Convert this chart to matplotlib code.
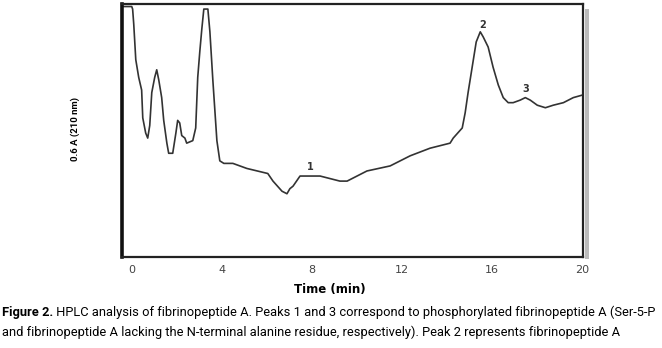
import matplotlib.pyplot as plt
from matplotlib.patches import Rectangle

# chromatogram trace (time in min, relative absorbance)
time_min = [-0.40, 0.00, 0.04, 0.09, 0.18, 0.31, 0.44, 0.49, 0.62, 0.71, 0.80, 0.89,
            1.02, 1.11, 1.20, 1.33, 1.42, 1.56, 1.64, 1.82, 1.96, 2.04, 2.13, 2.22,
            2.36, 2.44, 2.71, 2.84, 2.93, 3.02, 3.11, 3.20, 3.38, 3.47, 3.60, 3.69,
            3.78, 3.91, 4.09, 4.49, 5.11, 6.04, 6.27, 6.67, 6.89, 7.02, 7.16, 7.47,
            7.91, 8.36, 8.80, 9.24, 9.56, 10.44, 11.47, 12.36, 13.24, 14.13, 14.27,
            14.67, 14.80, 14.93, 15.11, 15.29, 15.47, 15.60, 15.82, 16.04, 16.27,
            16.49, 16.71, 16.93, 17.24, 17.47, 17.69, 18.00, 18.36, 18.71, 19.16,
            19.60, 20.00]
absorb = [0.99, 0.99, 0.98, 0.92, 0.78, 0.71, 0.66, 0.55, 0.49, 0.47, 0.52, 0.65,
          0.71, 0.74, 0.70, 0.63, 0.54, 0.45, 0.41, 0.41, 0.49, 0.54, 0.53, 0.48,
          0.47, 0.45, 0.46, 0.51, 0.71, 0.81, 0.90, 0.98, 0.98, 0.89, 0.70, 0.58,
          0.46, 0.38, 0.37, 0.37, 0.35, 0.33, 0.30, 0.26, 0.25, 0.27, 0.28, 0.32,
          0.32, 0.32, 0.31, 0.30, 0.30, 0.34, 0.36, 0.40, 0.43, 0.45, 0.47,
          0.51, 0.57, 0.65, 0.75, 0.85, 0.89, 0.87, 0.83, 0.75, 0.68,
          0.63, 0.61, 0.61, 0.62, 0.63, 0.62, 0.60, 0.59, 0.60, 0.61,
          0.63, 0.64]

peak_labels = ["1", "2", "3"]
peak_time = [7.91, 15.56, 17.47]
peak_abs = [0.33, 0.89, 0.64]

xticks = [0, 4, 8, 12, 16, 20]

fig = plt.figure(figsize=(6.62, 3.48), dpi=100)
ax = fig.add_axes([0.184, 0.2615, 0.697, 0.727])

ax.plot(time_min, absorb, color="#333333", lw=1.2)
for lab, t, a in zip(peak_labels, peak_time, peak_abs):
    ax.annotate(lab, (t, a), xytext=(0, 1), textcoords="offset points",
                ha="center", va="bottom", fontsize=7, fontweight="bold",
                color="#333333")

ax.set_xlim(-0.44, 20.04)
ax.set_ylim(0, 1)
ax.set_xticks(xticks)
ax.set_xticklabels([str(v) for v in xticks])
ax.set_yticks([])
ax.tick_params(axis="x", length=0, pad=6, labelsize=8, labelcolor="#444444")

for side in ["top", "right", "bottom"]:
    ax.spines[side].set_linewidth(1.6)
    ax.spines[side].set_color("#222222")
ax.spines["left"].set_linewidth(2.6)
ax.spines["left"].set_color("#111111")

# grey shadow along the right edge of the frame
fig.add_artist(Rectangle((0.883, 0.255), 0.006, 0.72, transform=fig.transFigure,
                         color="#bbbbbb", lw=0))

fig.text(0.498, 0.167, "Time (min)", ha="center", va="center",
         fontsize=8.5, fontweight="bold")
fig.text(0.113, 0.63, "0.6 A (210 nm)", rotation=90, ha="center", va="center",
         fontsize=6.8, fontweight="bold", family="Roboto")

cap_font = "Roboto"
cap_size = 9.3
t1 = fig.text(0.003, 0.082, "Figure 2.", fontsize=cap_size, fontweight="bold",
              family=cap_font, va="bottom")
ax.annotate(" HPLC analysis of fibrinopeptide A. Peaks 1 and 3 correspond to "
            "phosphorylated fibrinopeptide A (Ser-5-P",
            xy=(1, 0), xycoords=t1, va="bottom", ha="left",
            fontsize=cap_size, family=cap_font, annotation_clip=False)
fig.text(0.003, 0.025, "and fibrinopeptide A lacking the N-terminal alanine residue, "
         "respectively). Peak 2 represents fibrinopeptide A",
         fontsize=cap_size, family=cap_font, va="bottom")

fig.savefig("out.png", dpi=100)
